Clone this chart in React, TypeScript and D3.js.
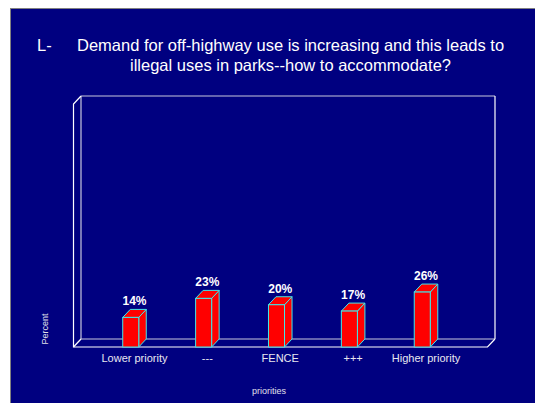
import * as d3 from "d3";

const categories = ["Lower priority", "---", "FENCE", "+++", "Higher priority"];
const values = [14, 23, 20, 17, 26];
const titleLines = [
  "Demand for off-highway use is increasing and this leads to",
  "illegal uses in parks--how to accommodate?",
];

const W = 535;
const H = 403;
const DX = 7.5;
const DY = 8;
const LEFT = 73.5;
const RIGHT = 487.5;
const FLOOR = 347;
const TOP = 96;

export default function App() {
  const x = d3
    .scaleBand<string>()
    .domain(categories)
    .range([94.3, 458.7])
    .paddingInner(0.78)
    .paddingOuter(0.39);
  // value scale lives on the back wall
  const y = d3.scaleLinear().domain([0, 115]).range([FLOOR - DY, TOP]);
  const bw = x.bandwidth();

  const backLine = "#c8c8dc";

  return (
    <svg
      width={W}
      height={H}
      style={{ position: "absolute", left: 0, top: 0, fontFamily: "Arial, 'Liberation Sans', sans-serif" }}
    >
      <rect x={0} y={0} width={W} height={H} fill="#ffffff" />
      <rect x={10.5} y={8.5} width={W} height={H} fill="#000080" stroke="#808080" strokeWidth={1} />

      {/* title */}
      <text x={37} y={51} fill="#ffffff" fontSize={16.5}>L-</text>
      <text x={77} y={51} fill="#ffffff" fontSize={16.5}>{titleLines[0]}</text>
      <text x={130} y={71} fill="#ffffff" fontSize={16.5}>{titleLines[1]}</text>

      {/* 3d frame: back wall, left wall, floor */}
      <g fill="none" strokeWidth={1.2}>
        <line x1={LEFT + DX} y1={TOP} x2={RIGHT + DX} y2={TOP} stroke={backLine} />
        <line x1={RIGHT + DX} y1={TOP} x2={RIGHT + DX} y2={FLOOR - DY} stroke="#ffffff" />
        <line x1={LEFT + DX} y1={TOP} x2={LEFT + DX} y2={FLOOR - DY} stroke={backLine} />
        <line x1={LEFT + DX} y1={FLOOR - DY} x2={RIGHT + DX} y2={FLOOR - DY} stroke={backLine} />
        <polyline
          points={`${LEFT + DX},${TOP} ${LEFT},${TOP + DY} ${LEFT},${FLOOR} ${RIGHT},${FLOOR} ${RIGHT + DX},${FLOOR - DY}`}
          stroke="#ffffff"
        />
        <line x1={LEFT} y1={FLOOR} x2={LEFT + DX} y2={FLOOR - DY} stroke="#ffffff" />
      </g>

      {/* bars */}
      {categories.map((c, i) => {
        const x0 = x(c) ?? 0;
        const top = y(values[i]) + DY;
        return (
          <g key={c} fill="#ff0000" stroke="#40e8e8" strokeWidth={1}>
            <polygon
              points={`${x0 + bw},${top} ${x0 + bw + DX},${top - DY} ${x0 + bw + DX},${FLOOR - DY} ${x0 + bw},${FLOOR}`}
            />
            <polygon
              points={`${x0},${top} ${x0 + DX},${top - DY} ${x0 + bw + DX},${top - DY} ${x0 + bw},${top}`}
            />
            <rect x={x0} y={top} width={bw} height={FLOOR - top} />
          </g>
        );
      })}

      {/* value labels */}
      {categories.map((c, i) => (
        <text
          key={c}
          x={(x(c) ?? 0) + bw / 2 + DX / 2}
          y={y(values[i]) - 4}
          textAnchor="middle"
          fill="#ffffff"
          fontSize={12}
          fontWeight="bold"
        >
          {values[i]}%
        </text>
      ))}

      {/* category labels */}
      {categories.map((c) => (
        <text
          key={c}
          x={(x(c) ?? 0) + bw / 2 + DX / 2}
          y={362}
          textAnchor="middle"
          fill="#e8e8f0"
          fontSize={11}
        >
          {c}
        </text>
      ))}

      <text x={269} y={394} textAnchor="middle" fill="#e0e0ea" fontSize={9}>priorities</text>
      <text
        transform="translate(47.5,329) rotate(-90)"
        textAnchor="middle"
        fill="#e0e0ea"
        fontSize={9}
      >
        Percent
      </text>
    </svg>
  );
}
